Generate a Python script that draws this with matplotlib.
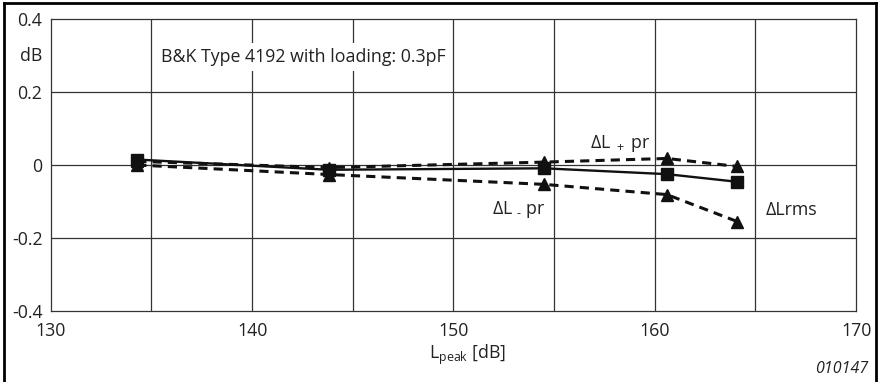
import matplotlib.pyplot as plt
from matplotlib.lines import Line2D

plt.rcParams["font.family"] = ["Open Sans", "DejaVu Sans"]
plt.rcParams["mathtext.fontset"] = "custom"
plt.rcParams["mathtext.rm"] = "Open Sans"
plt.rcParams["mathtext.it"] = "Open Sans:italic"

# peak level [dB] of each measurement
l_peak = [134.3, 143.8, 154.5, 160.6, 164.1]
# deviations [dB]
dl_rms = [0.015, -0.013, -0.009, -0.025, -0.046]
dl_plus_pr = [0.01, -0.007, 0.008, 0.018, -0.004]
dl_minus_pr = [0.0, -0.026, -0.053, -0.081, -0.155]

x_ticks = [130, 140, 150, 160, 170]
y_ticks = [-0.4, -0.2, 0, 0.2, 0.4]
y_tick_labels = ["-0.4", "-0.2", "0", "0.2", "0.4"]

FS = 12.8
TXT = "#222222"

fig = plt.figure(figsize=(8.79, 3.82), dpi=100)
ax = fig.add_axes([0.0577, 0.186, 0.9163, 0.764])

grid_kw = dict(color="#333333", lw=0.9, zorder=1)
for gx in range(135, 170, 5):
    ax.axvline(gx, **grid_kw)
for gy in y_ticks[1:-1]:
    ax.axhline(gy, **grid_kw)

dash = (0, (3.0, 2.0))
ax.plot(l_peak, dl_minus_pr, color="#111111", lw=2.2, linestyle=dash,
        marker="^", markersize=8, zorder=3)
ax.plot(l_peak, dl_plus_pr, color="#111111", lw=2.2, linestyle=dash,
        marker="^", markersize=8, zorder=3)
ax.plot(l_peak, dl_rms, color="#111111", lw=1.7, linestyle="-",
        marker="s", markersize=8.5, zorder=4)

ax.set_xlim(130, 170)
ax.set_ylim(-0.4, 0.4)
ax.set_xticks(x_ticks)
ax.set_yticks(y_ticks)
ax.set_yticklabels(y_tick_labels)
ax.tick_params(length=0, labelsize=FS, colors=TXT)
ax.tick_params(axis="x", pad=8)
ax.tick_params(axis="y", pad=6)
for s in ax.spines.values():
    s.set_color("#333333")
    s.set_linewidth(0.9)

ax.annotate("dB", xy=(0, 0.3), xycoords=("axes fraction", "data"),
            xytext=(-6, 0), textcoords="offset points", ha="right", va="center",
            fontsize=FS, color=TXT)
ax.text(135.5, 0.296, "B&K Type 4192 with loading: 0.3pF", fontsize=FS,
        ha="left", va="center", color=TXT, zorder=5,
        bbox=dict(boxstyle="square,pad=0.3", fc="white", ec="none"))
ax.text(156.8, 0.058, r"ΔL $_+$ pr", fontsize=FS, ha="left", va="center", color=TXT)
ax.text(151.9, -0.123, r"ΔL $_{\text{-}}$ pr", fontsize=FS, ha="left", va="center", color=TXT)
ax.text(165.5, -0.123, "ΔLrms", fontsize=FS, ha="left", va="center", color=TXT)

fig.text(468 / 879, 1 - 355 / 382, r"L$_{\mathrm{peak}}$ [dB]", fontsize=FS,
         ha="center", va="center", color=TXT)
fig.text(868 / 879, 1 - 369 / 382, "010147", fontsize=11.5, style="italic",
         ha="right", va="center", color=TXT)

# outer frame
for xs, ys in [([0.005, 0.005], [0, 0.993]), ([0.005, 0.997], [0.993, 0.993]),
               ([0.997, 0.997], [0, 0.993])]:
    fig.add_artist(Line2D(xs, ys, transform=fig.transFigure, color="black", lw=2))

fig.savefig("out.png", dpi=100)
